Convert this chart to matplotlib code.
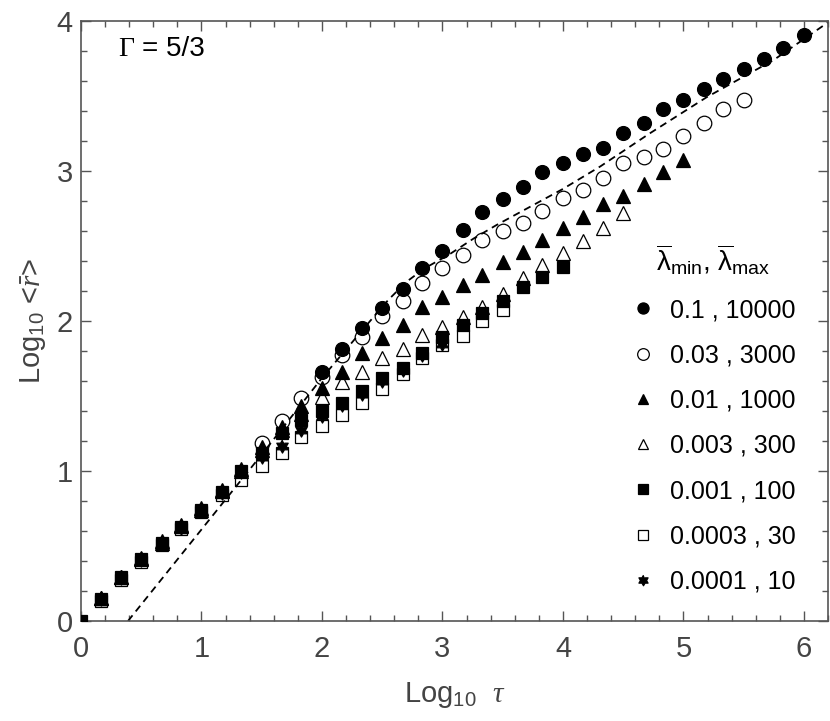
import matplotlib
matplotlib.use('Agg')
from matplotlib import pyplot as plt
from matplotlib.ticker import MultipleLocator
import numpy as np

plt.rcParams['font.family'] = 'Liberation Sans'
plt.rcParams['mathtext.fontset'] = 'custom'
plt.rcParams['mathtext.rm'] = 'Liberation Sans'
plt.rcParams['mathtext.it'] = 'Liberation Serif:italic'
plt.rcParams['mathtext.bf'] = 'Liberation Sans:bold'

# log10 tau sample points (index 0 -> 0.0, step ~1/6)
tau = [0.0, 0.17, 0.33, 0.5, 0.67, 0.83, 1.0, 1.17, 1.33, 1.5, 1.67, 1.83,
       2.0, 2.17, 2.33, 2.5, 2.67, 2.83, 3.0, 3.17, 3.33, 3.5, 3.67, 3.83,
       4.0, 4.17, 4.33, 4.5, 4.67, 4.83, 5.0, 5.17, 5.33, 5.5, 5.67, 5.83, 6.0]

# log10 <r> for each (lambda_min, lambda_max) run, with the tau index where it starts
r_01 = [1.66, 1.81, 1.95, 2.085, 2.21, 2.35, 2.465, 2.605, 2.725, 2.81, 2.89,
        2.99, 3.055, 3.11, 3.15, 3.25, 3.32, 3.41, 3.47, 3.545, 3.61, 3.68,
        3.745, 3.82, 3.905]
r_003 = [1.185, 1.33, 1.485, 1.625, 1.77, 1.895, 2.03, 2.13, 2.25, 2.35, 2.44,
         2.54, 2.60, 2.65, 2.735, 2.82, 2.87, 2.95, 3.05, 3.095, 3.145, 3.23,
         3.32, 3.41, 3.47]
r_001 = [0.155, 0.295, 0.42, 0.53, 0.64, 0.75, 0.875, 1.01, 1.16, 1.295, 1.43,
         1.55, 1.66, 1.785, 1.885, 1.97, 2.095, 2.16, 2.24, 2.305, 2.395, 2.46,
         2.537, 2.62, 2.69, 2.78, 2.83, 2.91, 2.99, 3.07]
r_0003 = [0.15, 0.29, 0.41, 0.52, 0.63, 0.74, 0.865, 1.0, 1.14, 1.27, 1.38,
          1.49, 1.59, 1.66, 1.75, 1.815, 1.905, 1.96, 2.025, 2.095, 2.18,
          2.285, 2.37, 2.45, 2.53, 2.62, 2.72]
r_0001 = [0.0, 0.147, 0.29, 0.41, 0.52, 0.625, 0.74, 0.86, 1.0, 1.12, 1.25,
          1.34, 1.40, 1.455, 1.53, 1.62, 1.685, 1.785, 1.89, 1.97, 2.05, 2.13,
          2.225, 2.29, 2.36]
r_00003 = [0.13, 0.27, 0.395, 0.505, 0.61, 0.725, 0.84, 0.94, 1.03, 1.12,
           1.225, 1.30, 1.375, 1.45, 1.545, 1.647, 1.75, 1.84, 1.90, 2.0, 2.07]
r_00001 = [0.145, 0.285, 0.405, 0.515, 0.62, 0.735, 0.855, 0.99, 1.09, 1.165,
           1.27, 1.365, 1.44, 1.51, 1.60, 1.67, 1.77, 1.845]
starts = [12, 9, 1, 1, 0, 1, 1]
labels = ['0.1 , 10000', '0.03 , 3000', '0.01 , 1000', '0.003 , 300',
          '0.001 , 100', '0.0003 , 30', '0.0001 , 10']

# dashed reference curve
fit_tau = [0.39, 1.0, 1.5, 2.0, 2.2, 2.4, 2.55, 2.7, 2.85, 3.05, 3.26, 3.45,
           4.0, 4.31, 4.72, 5.19, 5.75, 6.2]
fit_r = [0.0, 0.61, 1.11, 1.62, 1.81, 2.0, 2.14, 2.26, 2.35, 2.44, 2.55, 2.64,
         2.88, 3.03, 3.25, 3.49, 3.74, 3.99]

# six-pointed star marker
ang = np.deg2rad(90 + 30 * np.arange(12))
rad = np.where(np.arange(12) % 2 == 0, 1.0, 0.58)
hexagram = list(zip(rad * np.cos(ang), rad * np.sin(ang)))

styles = [
    dict(marker='o', ms=10, mfc='k', zorder=3),
    dict(marker='o', ms=10.5, mfc='none', zorder=3),
    dict(marker='^', ms=9.5, mfc='k', zorder=3),
    dict(marker='^', ms=9.5, mfc='none', zorder=3),
    dict(marker='s', ms=8.6, mfc='k', zorder=6),
    dict(marker='s', ms=8.6, mfc='none', zorder=5),
    dict(marker=hexagram, ms=9.5, mfc='k', zorder=4),
]
series = [r_01, r_003, r_001, r_0003, r_0001, r_00003, r_00001]

fig = plt.figure(figsize=(8.3, 7.21), dpi=100)
ax = fig.add_axes([0.0976, 0.1387, 0.9, 0.8323])

ax.plot(fit_tau, fit_r, color='k', lw=1.3, dashes=(4, 2.8), zorder=2)

for vals, s0, lab, st in zip(series, starts, labels, styles):
    ax.plot(tau[s0:s0 + len(vals)], vals, linestyle='none', mec='k', mew=0.9,
            label=lab, **st)

ax.set_xlim(0, 6.2)
ax.set_ylim(0, 4)
ax.xaxis.set_major_locator(MultipleLocator(1))
ax.xaxis.set_minor_locator(MultipleLocator(0.2))
ax.yaxis.set_major_locator(MultipleLocator(1))
ax.yaxis.set_minor_locator(MultipleLocator(0.2))
ax.tick_params(which='both', direction='in', top=True, right=True,
               color='#555555', width=1.0, labelcolor='#444444', labelsize=21)
ax.tick_params(which='major', length=7)
ax.tick_params(which='minor', length=4)
ax.tick_params(axis='x', pad=10)
ax.tick_params(axis='y', pad=6)
for sp in ax.spines.values():
    sp.set_color('#555555')
    sp.set_linewidth(1.2)

ax.set_xlabel(r'Log$_{10}$  $\tau$', fontsize=21, color='#444444', labelpad=12)
ax.set_ylabel(r'Log$_{10}$ <$\bar{r}$>', fontsize=21, color='#444444', labelpad=6)

ax.text(0.31, 3.81, '\u0393', fontsize=20, family='Liberation Serif', va='center')
ax.text(0.51, 3.81, '= 5/3', fontsize=20, va='center')

leg = ax.legend(loc='upper right', bbox_to_anchor=(0.974, 0.652), frameon=False,
                fontsize=18, markerscale=0.8, handlelength=1.0, handletextpad=0.6,
                labelspacing=0.85, borderpad=0,
                title=r'$\overline{\mathrm{\lambda}}_{\mathrm{min}}$, $\overline{\mathrm{\lambda}}_{\mathrm{max}}$',
                title_fontsize=20)

fig.savefig('out.png', dpi=100)
